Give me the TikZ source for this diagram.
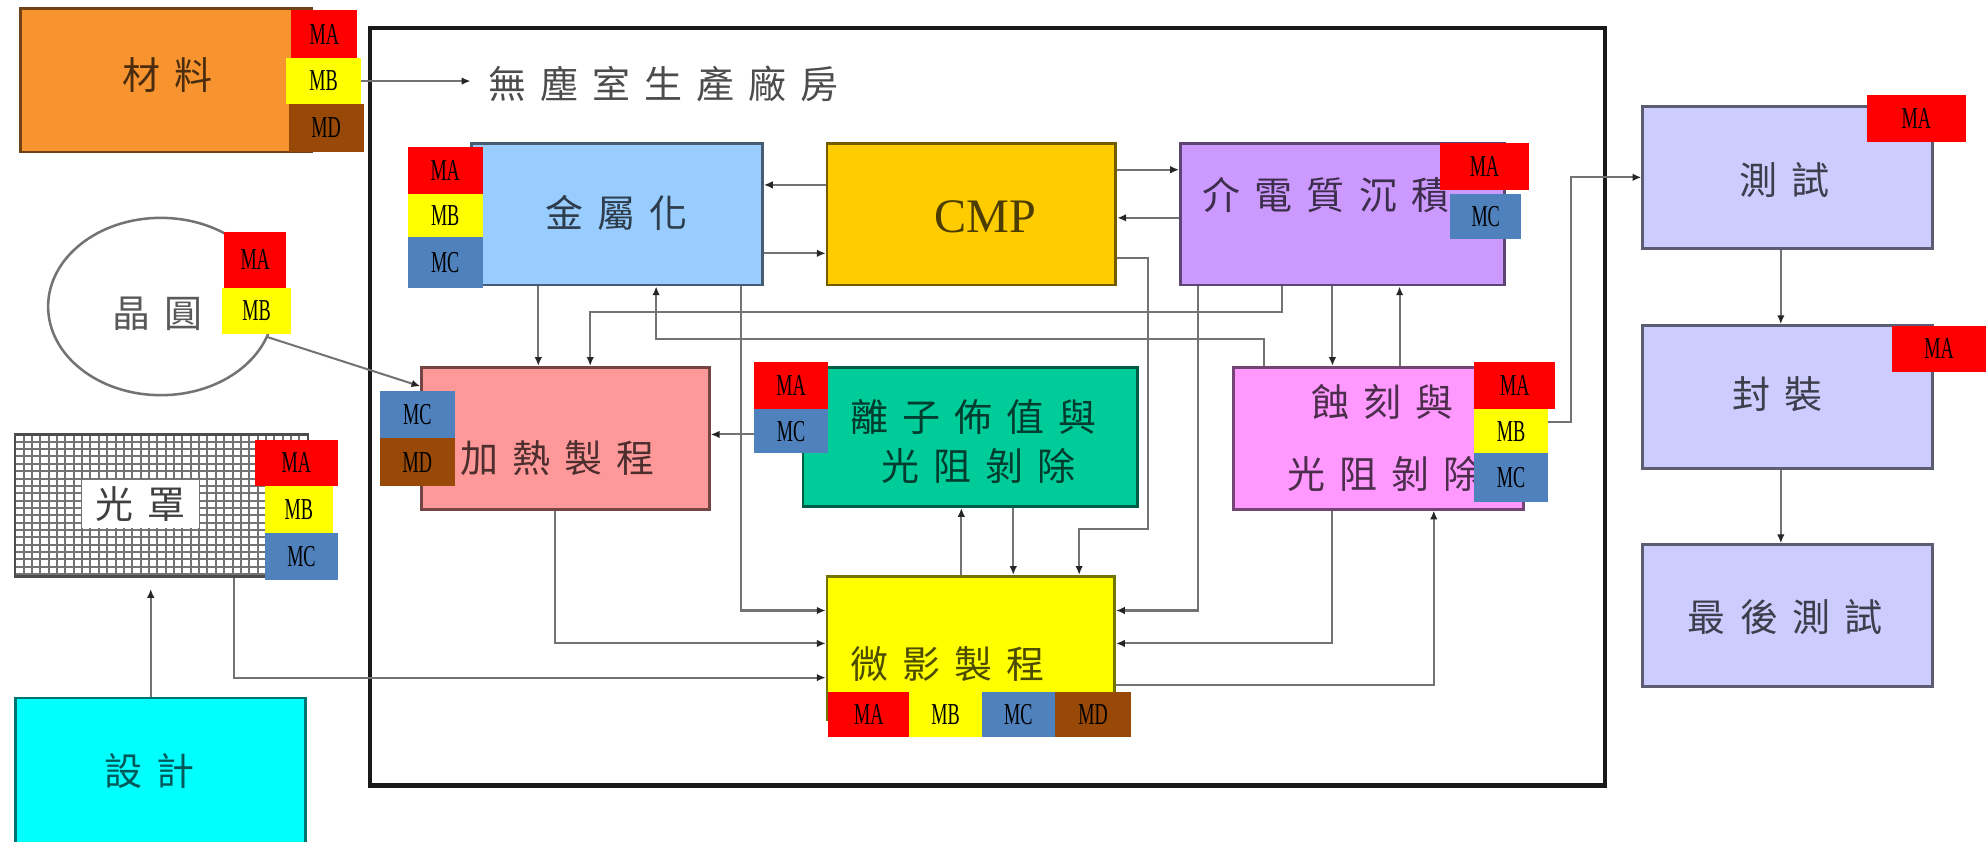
\documentclass[tikz,border=0pt]{standalone}
\usepackage{fontspec}
\usepackage{graphicx}
\usetikzlibrary{arrows.meta,shapes.geometric}
\newfontfamily\zhfont[LetterSpace=37]{Noto Sans CJK TC}
\newfontfamily\latinserif{Liberation Serif}
\definecolor{cMat}{RGB}{248,148,48}
\definecolor{cMetal}{RGB}{153,204,255}
\definecolor{cCMP}{RGB}{255,204,0}
\definecolor{cDiel}{RGB}{204,153,255}
\definecolor{cHeat}{RGB}{255,153,153}
\definecolor{cIon}{RGB}{0,204,153}
\definecolor{cEtch}{RGB}{255,153,255}
\definecolor{cLitho}{RGB}{255,255,0}
\definecolor{cTest}{RGB}{204,204,255}
\definecolor{cDesign}{RGB}{0,255,255}
\definecolor{MA}{RGB}{255,0,0}
\definecolor{MB}{RGB}{255,255,0}
\definecolor{MC}{RGB}{79,129,189}
\definecolor{MD}{RGB}{152,72,7}
\tikzset{
  box/.style={draw=#1!45!black, fill=#1, line width=2.2pt, inner sep=0pt},
  zh/.style={font=\zhfont\fontsize{30}{36}\selectfont, text=#1, inner sep=0pt, anchor=west},
  badge/.style={fill=#1, inner sep=0pt, font=\latinserif\fontsize{24}{24}\selectfont, text=black},
  conn/.style={draw=black!55, line width=1.6pt, -{Latex[length=7pt,width=6pt,color=black!85]}},
  gridline/.style={draw=black!55, line width=1.6pt},
}
\newcommand\bt[1]{\scalebox{0.6}[1]{#1}}
\newcommand\mkbadge[5]{\node[badge=#1, minimum width=#4pt, minimum height=#5pt] (#2) at (#3) {\bt{#1}};}
\begin{document}
\begin{tikzpicture}[x=1pt,y=-1pt]
\useasboundingbox (0,0) rectangle (1568,664);
% clean room frame
\node[draw=black!90, line width=3.5pt, minimum width=975pt, minimum height=598pt, inner sep=0pt] (fab) at (779.5,321) {};
% left column
\node[box=cMat, minimum width=230pt, minimum height=113pt] (mat) at (131,63.5) {};
\node[ellipse, draw=black!55, line width=2pt, minimum width=178pt, minimum height=140pt, inner sep=0pt] (wafer) at (127,242) {};
\foreach \gx in {12,18.6,...,243} \draw[gridline] (\gx,343) -- (\gx,455);
\foreach \gy in {343,348.8,...,455} \draw[gridline] (12,\gy) -- (243,\gy);
\node[draw=black!70, line width=2pt, minimum width=231pt, minimum height=112pt, inner sep=0pt] (mask) at (127.5,399) {};
\node[box=cDesign, minimum width=229pt, minimum height=115pt] (design) at (126.5,608.5) {};
% process boxes
\node[box=cMetal, minimum width=230pt, minimum height=112pt] (metal) at (487,169) {};
\node[box=cCMP, minimum width=228pt, minimum height=112pt] (cmp) at (767,169) {};
\node[box=cDiel, minimum width=256pt, minimum height=112pt] (diel) at (1060,169) {};
\node[box=cHeat, minimum width=227pt, minimum height=112pt] (heat) at (446.5,346) {};
\node[box=cIon, minimum width=264pt, minimum height=110pt] (ion) at (766,345) {};
\node[box=cEtch, minimum width=229pt, minimum height=112pt] (etch) at (1088.5,346) {};
\node[box=cLitho, minimum width=227pt, minimum height=113pt] (litho) at (766.5,511.5) {};
% right column
\node[box=cTest, minimum width=229pt, minimum height=112pt] (test) at (1411.5,140) {};
\node[box=cTest, minimum width=229pt, minimum height=113pt] (pack) at (1411.5,313.5) {};
\node[box=cTest, minimum width=229pt, minimum height=112pt] (final) at (1411.5,486) {};
% texts
\node[zh=cMat!30!black] (mat-t) at (96.8,59) {材料};
\node[zh=black!70] (fab-t) at (385.5,66) {無塵室生產廠房};
\node[zh=black!65] (wafer-t) at (88.8,248) {晶圓};
\node[zh=black!75, anchor=center, fill=white, minimum width=92pt, minimum height=38pt] (mask-t) at (111,398) {光罩};
\node[zh=cDesign!35!black] (design-t) at (82.3,609) {設計};
\node[zh=cMetal!30!black] (metal-t) at (430.2,168) {金屬化};
\node[font=\latinserif\fontsize{38}{38}\selectfont, text=cCMP!30!black, inner sep=0pt] (cmp-t) at (778,171) {CMP};
\node[zh=cDiel!30!black] (diel-t) at (949.5,154) {介電質沉積};
\node[zh=cHeat!30!black] (heat-t) at (363.5,362) {加熱製程};
\node[zh=cIon!30!black] (ion-t1) at (671.5,329) {離子佈值與};
\node[zh=cIon!30!black] (ion-t2) at (695.5,368) {光阻剝除};
\node[zh=cEtch!30!black] (etch-t1) at (1035.5,317) {蝕刻與};
\node[zh=cEtch!30!black] (etch-t2) at (1016.5,374) {光阻剝除};
\node[zh=cLitho!30!black] (litho-t) at (671.5,524) {微影製程};
\node[zh=cTest!30!black] (test-t) at (1372.8,142) {測試};
\node[zh=cTest!30!black] (pack-t) at (1367.8,311) {封裝};
\node[zh=cTest!30!black] (final-t) at (1332.5,487) {最後測試};
% badges of the material box
\mkbadge{MA}{matMA}{256,27}{52}{38}
\mkbadge{MB}{matMB}{255.5,64}{59}{36}
\mkbadge{MD}{matMD}{257.5,101}{59}{38}
% connectors
\draw[conn, shorten >=14pt] (matMB.east) -- (matMB.east -| fab-t.west);
\draw[conn, shorten >=9pt] (119,0 |- design.north) -- (119,0 |- mask.south);
\draw[conn] (185,0 |- mask.south) -- (185,535) -- (litho.west |- 0,535);
\draw[conn] (wafer.-16) -- (heat.west |- 0,305);
\draw[conn] (cmp.west |- 0,146) -- (metal.east |- 0,146);
\draw[conn] (metal.east |- 0,200) -- (cmp.west |- 0,200);
\draw[conn] (cmp.east |- 0,134) -- (diel.west |- 0,134);
\draw[conn] (diel.west |- 0,172) -- (cmp.east |- 0,172);
\draw[conn] (cmp.east |- 0,204) -- (906,204) -- (906,418) -- (852,418) -- (852,0 |- litho.north);
\draw[conn] (425,0 |- metal.south) -- (425,0 |- heat.north);
\draw[conn] (1012,0 |- diel.south) -- (1012,246) -- (466,246) -- (466,0 |- heat.north);
\draw[conn] (998,0 |- etch.north) -- (998,268) -- (518,268) -- (518,0 |- metal.south);
\draw[conn] (585,0 |- metal.south) -- (585,482) -- (litho.west |- 0,482);
\draw[conn] (438,0 |- heat.south) -- (438,508) -- (litho.west |- 0,508);
\draw[conn] (ion.west |- 0,343) -- (heat.east |- 0,343);
\draw[conn] (759,0 |- litho.north) -- (759,0 |- ion.south);
\draw[conn] (800,0 |- ion.south) -- (800,0 |- litho.north);
\draw[conn] (946,0 |- diel.south) -- (946,482) -- (litho.east |- 0,482);
\draw[conn] (1052,0 |- diel.south) -- (1052,0 |- etch.north);
\draw[conn] (1105,0 |- etch.north) -- (1105,0 |- diel.south);
\draw[conn] (1052,0 |- etch.south) -- (1052,508) -- (litho.east |- 0,508);
\draw[conn] (litho.east |- 0,541) -- (1132,541) -- (1132,0 |- etch.south);
\draw[conn] (1222,333) -- (1240,333) -- (1240,140) -- (test.west |- 0,140);
\draw[conn] (1406,0 |- test.south) -- (1406,0 |- pack.north);
\draw[conn] (1406,0 |- pack.south) -- (1406,0 |- final.north);
% remaining badges
\mkbadge{MA}{wafMA}{201.5,205}{49}{44}
\mkbadge{MB}{wafMB}{202.5,245.5}{55}{37}
\mkbadge{MA}{maskMA}{234,365.5}{66}{37}
\mkbadge{MB}{maskMB}{236,402.5}{54}{37}
\mkbadge{MC}{maskMC}{238,439.5}{58}{37}
\mkbadge{MA}{metMA}{351.5,134.5}{59}{37}
\mkbadge{MB}{metMB}{351.5,170}{59}{34}
\mkbadge{MC}{metMC}{351.5,207}{59}{40}
\mkbadge{MC}{heatMC}{329.5,327.5}{59}{37}
\mkbadge{MD}{heatMD}{329.5,365}{59}{38}
\mkbadge{MA}{ionMA}{624.5,304.5}{59}{37}
\mkbadge{MC}{ionMC}{624.5,340.5}{59}{35}
\mkbadge{MA}{dielMA}{1172,131.5}{70}{37}
\mkbadge{MC}{dielMC}{1173,171}{56}{36}
\mkbadge{MA}{etchMA}{1196,304.5}{64}{37}
\mkbadge{MB}{etchMB}{1193,340.5}{58}{35}
\mkbadge{MC}{etchMC}{1193,377}{58}{38}
\mkbadge{MA}{lithMA}{686,564}{64}{36}
\mkbadge{MB}{lithMB}{746.5,564}{57}{36}
\mkbadge{MC}{lithMC}{804,564}{58}{36}
\mkbadge{MD}{lithMD}{863,564}{60}{36}
\mkbadge{MA}{testMA}{1513,93.5}{78}{37}
\mkbadge{MA}{packMA}{1531,275.5}{74}{37}
\end{tikzpicture}
\end{document}
